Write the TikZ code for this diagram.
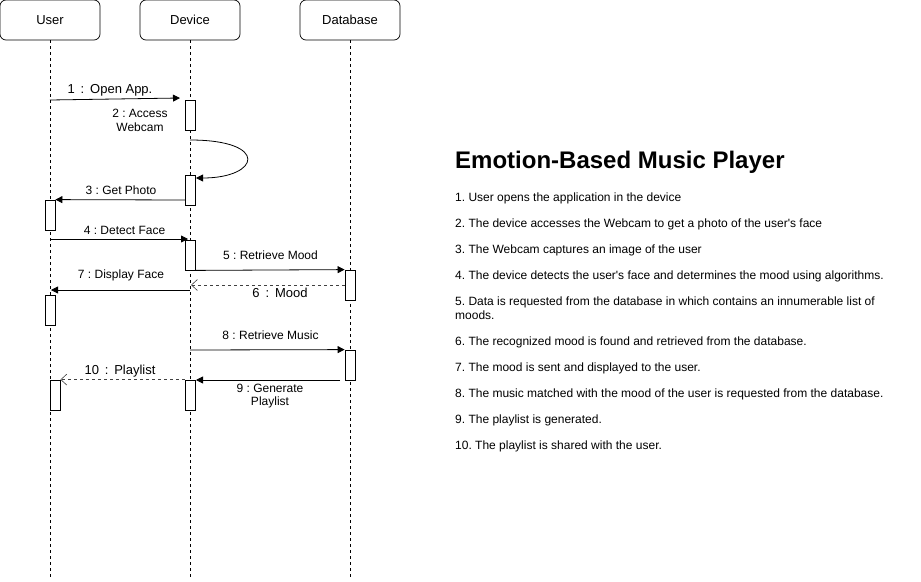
\documentclass[tikz,border=0pt]{standalone}
\usepackage{fontspec}
\setmainfont{Liberation Sans}
\usetikzlibrary{arrows.meta}
\frenchspacing
\begin{document}
\begin{tikzpicture}[x=1pt,y=-1pt,
  head/.style={draw, rounded corners=6pt, minimum width=100pt, minimum height=40pt, font=\fontsize{13}{15}\selectfont, inner sep=0pt, line width=0.7pt},
  bar/.style={draw, fill=white, minimum width=10pt, minimum height=30pt, inner sep=0pt, line width=0.8pt},
  life/.style={dash pattern=on 3pt off 3pt, line width=0.6pt},
  msg/.style={-{Triangle[length=7pt,width=7pt]}, line width=0.8pt},
  ret/.style={-{Straight Barb[length=6pt,width=11pt]}, dash pattern=on 3pt off 3pt, line width=0.6pt, draw=black!75},
  lbl/.style={font=\fontsize{12}{13.5}\selectfont, inner sep=0pt, align=center},
  lblw/.style={font=\fontsize{13}{15}\selectfont, inner sep=0pt, align=center},
  item/.style={font=\fontsize{12}{14}\selectfont, anchor=base west, inner sep=0pt}]
\useasboundingbox (0,0) rectangle (921,581);
% heads
\node[head] (user) at (50,20) {User};
\node[head] (dev) at (190,20) {Device};
\node[head] (db) at (350,20) {Database};
\coordinate (ue) at (50,578);
\coordinate (de) at (190,578);
\coordinate (be) at (350,578);
\draw[life] (user.south) -- (ue);
\draw[life] (dev.south) -- (de);
\draw[life] (db.south) -- (be);
% bars
\node[bar] (d1) at (190,115) {};
\node[bar] (d2) at (190,190) {};
\node[bar] (u1) at (50,215) {};
\node[bar] (d3) at (190,255) {};
\node[bar] (b1) at (350,285) {};
\node[bar] (u2) at (50,310) {};
\node[bar] (b2) at (350,365) {};
\node[bar] (u3) at (55,395) {};
\node[bar] (d4) at (190,395) {};
% coordinates
\coordinate (m1s) at (50,100);
\coordinate (m1e) at (180,98);
\coordinate (m2s) at (190,140);
\coordinate (m2e) at (196,178);
\coordinate (m3s) at (185,200);
\coordinate (m4s) at (50,239);
\coordinate (m4e) at (188,239);
\coordinate (m6e) at (191,285);
\coordinate (m7s) at (190,290);
\coordinate (m7e) at (51,290);
\coordinate (m8s) at (190,350);
\coordinate (m9s) at (340,380);
\coordinate (m9e) at (196,380);
% messages
\draw[msg] (m1s) -- (m1e);
\node[lblw] (l1) at (110,90) {1\hspace{0.45em}:\hspace{0.45em}Open App.};
\node[lbl] (l2) at (140,120.5) {2 : Access\\Webcam};
\draw[msg] (m2s) .. controls (270,140) and (260,178) .. (m2e);
\draw[msg] (m3s) -- (u1.north east);
\node[lbl] (l3) at (121,190.5) {3 : Get Photo};
\draw[msg] (m4s) -- (m4e);
\node[lbl] (l4) at (124.5,230.5) {4 : Detect Face};
\draw[msg] (d3.south east) -- (b1.north west);
\node[lbl] (l5) at (270.5,255.5) {5 : Retrieve Mood};
\draw[ret] (b1.west) -- (m6e);
\node[lblw] (l6) at (280,292.5) {6\hspace{0.45em}:\hspace{0.45em}Mood};
\draw[msg] (m7s) -- (m7e);
\node[lbl] (l7) at (121,275.5) {7 : Display Face};
\draw[msg] (m8s) -- (b2.north west);
\node[lbl] (l8) at (270.5,335.5) {8 : Retrieve Music};
\draw[msg] (m9s) -- (m9e);
\node[lbl] (l9) at (270,396) {9 : Generate\\Playlist};
\draw[ret] (d4.north west) -- (u3.north east);
\node[lblw] (l10) at (120,371.5) {10\hspace{0.45em}:\hspace{0.45em}Playlist};
% description
\node[font=\bfseries\fontsize{24}{28}\selectfont, anchor=base west, inner sep=0pt] (title) at (455,168.5) {Emotion-Based Music Player};
\node[item] (t1) at (455,201) {1. User opens the application in the device};
\node[item] (t2) at (455,227) {2. The device accesses the Webcam to get a photo of the user\textquotesingle s face};
\node[item] (t3) at (455,253) {3. The Webcam captures an image of the user};
\node[item] (t4) at (455,279) {4. The device detects the user\textquotesingle s face and determines the mood using algorithms.};
\node[item] (t5) at (455,305) {5. Data is requested from the database in which contains an innumerable list of};
\node[item] (t5b) at (455,319) {moods.};
\node[item] (t6) at (455,345) {6. The recognized mood is found and retrieved from the database.};
\node[item] (t7) at (455,371) {7. The mood is sent and displayed to the user.};
\node[item] (t8) at (455,397) {8. The music matched with the mood of the user is requested from the database.};
\node[item] (t9) at (455,423) {9. The playlist is generated.};
\node[item] (t10) at (455,449) {10. The playlist is shared with the user.};
\end{tikzpicture}
\end{document}
